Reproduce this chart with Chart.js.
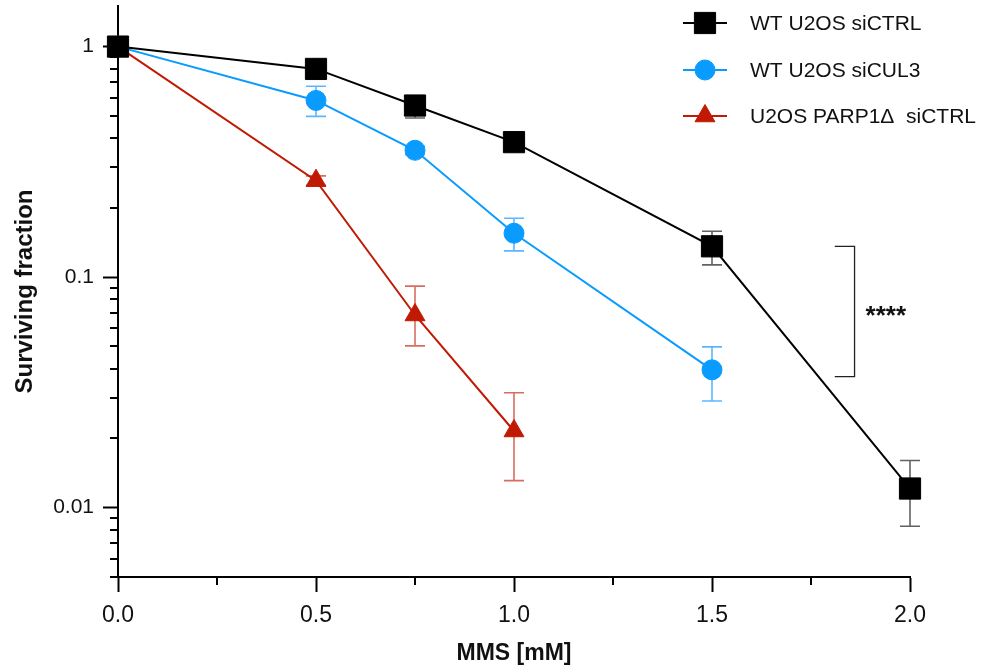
<!DOCTYPE html>
<html>
<head>
<meta charset="utf-8">
<script src="https://cdn.jsdelivr.net/npm/chart.js@4.4.1/dist/chart.umd.min.js"></script>
<style>
html,body{margin:0;padding:0;background:#fff;}
#wrap{width:987px;height:670px;}
</style>
</head>
<body>
<div id="wrap"><canvas id="c" width="987" height="670"></canvas></div>
<script>
// ---- data ----
const seriesNames = ['WT U2OS siCTRL', 'WT U2OS siCUL3', 'U2OS PARP1\u0394  siCTRL'];

const dosesCtrl = [0, 0.5, 0.75, 1.0, 1.5, 2.0];
const wtCtrl    = [1, 0.80, 0.555, 0.385, 0.136, 0.0121];
const wtCtrlLo  = [null, 0.76, 0.49, 0.36, 0.113, 0.0083];
const wtCtrlHi  = [null, 0.84, 0.60, 0.41, 0.158, 0.0160];

const dosesCul3 = [0, 0.5, 0.75, 1.0, 1.5];
const wtCul3    = [1, 0.584, 0.355, 0.155, 0.0396];
const wtCul3Lo  = [null, 0.498, 0.34, 0.130, 0.029];
const wtCul3Hi  = [null, 0.673, 0.37, 0.180, 0.0498];

const dosesParp = [0, 0.5, 0.75, 1.0];
const parp      = [1, 0.262, 0.0685, 0.0215];
const parpLo    = [null, 0.25, 0.0503, 0.0131];
const parpHi    = [null, 0.275, 0.0914, 0.0315];

const xTicks = [0, 0.5, 1.0, 1.5, 2.0];
const xTickLabels = ['0.0', '0.5', '1.0', '1.5', '2.0'];
const xMinorTicks = [0.25, 0.75, 1.25, 1.75];
const yTicks = [0.01, 0.1, 1];
const yTickLabels = ['0.01', '0.1', '1'];
const yMinorTicks = [0.005, 0.006, 0.007, 0.008, 0.009,
                     0.02, 0.03, 0.04, 0.05, 0.06, 0.07, 0.08, 0.09,
                     0.2, 0.3, 0.4, 0.5, 0.6, 0.7, 0.8, 0.9];
const sigBracket = [0.136, 0.037]; // surviving fraction range spanned by the bracket
const sigLabel = '****';

// ---- styles ----
const colors = ['#000000', '#0a9bff', '#c11a04'];
const errColors = ['rgba(70,70,70,0.85)', 'rgba(60,170,255,0.85)', 'rgba(200,60,40,0.75)'];
const FONT = "'Liberation Sans', Arial, Helvetica, sans-serif";

function pts(xs, ys){ return xs.map((x,i)=>({x:x, y:ys[i]})); }

const errData = [
  {xs: dosesCtrl, lo: wtCtrlLo, hi: wtCtrlHi},
  {xs: dosesCul3, lo: wtCul3Lo, hi: wtCul3Hi},
  {xs: dosesParp, lo: parpLo, hi: parpHi}
];

const errorBars = {
  id: 'errorBars',
  beforeDatasetsDraw(chart){
    const {ctx, scales:{x, y}} = chart;
    ctx.save();
    errData.forEach((e, di) => {
      ctx.strokeStyle = errColors[di];
      ctx.lineWidth = 1.6;
      e.xs.forEach((xv, i) => {
        if (e.lo[i] == null || e.hi[i] == null) return;
        const px = x.getPixelForValue(xv);
        const pl = y.getPixelForValue(e.lo[i]);
        const ph = y.getPixelForValue(e.hi[i]);
        ctx.beginPath();
        ctx.moveTo(px, pl); ctx.lineTo(px, ph);
        ctx.moveTo(px - 10, pl); ctx.lineTo(px + 10, pl);
        ctx.moveTo(px - 10, ph); ctx.lineTo(px + 10, ph);
        ctx.stroke();
      });
    });
    ctx.restore();
  }
};

const extras = {
  id: 'extras',
  afterDraw(chart){
    const {ctx, scales:{x, y}, chartArea} = chart;
    ctx.save();
    // minor ticks
    ctx.strokeStyle = '#000';
    ctx.lineWidth = 2;
    ctx.beginPath();
    yMinorTicks.forEach(v => {
      const py = Math.round(y.getPixelForValue(v));
      ctx.moveTo(chartArea.left - 8, py); ctx.lineTo(chartArea.left, py);
    });
    xMinorTicks.forEach(v => {
      const px = Math.round(x.getPixelForValue(v));
      ctx.moveTo(px, chartArea.bottom); ctx.lineTo(px, chartArea.bottom + 8);
    });
    ctx.stroke();

    // significance bracket
    const bx = x.getPixelForValue(1.86);
    const bl = x.getPixelForValue(1.81);
    const bt = y.getPixelForValue(sigBracket[0]);
    const bb = y.getPixelForValue(sigBracket[1]);
    ctx.lineWidth = 1.3;
    ctx.strokeStyle = '#222';
    ctx.beginPath();
    ctx.moveTo(bl, bt); ctx.lineTo(bx, bt); ctx.lineTo(bx, bb); ctx.lineTo(bl, bb);
    ctx.stroke();
    ctx.fillStyle = '#111';
    ctx.font = 'bold 26px ' + FONT;
    ctx.textAlign = 'left';
    ctx.textBaseline = 'middle';
    ctx.fillText(sigLabel, bx + 11, (bt + bb) / 2 + 5);

    // legend
    const rows = [23, 70, 116];
    chart.data.datasets.forEach((ds, i) => {
      const yy = rows[i];
      ctx.strokeStyle = ds.borderColor;
      ctx.lineWidth = 2;
      ctx.beginPath(); ctx.moveTo(683, yy); ctx.lineTo(727, yy); ctx.stroke();
      ctx.fillStyle = ds.pointBackgroundColor;
      ctx.strokeStyle = ds.pointBorderColor;
      ctx.lineWidth = 1;
      Chart.helpers.drawPoint(ctx, {pointStyle: ds.pointStyle, radius: ds.pointRadius, rotation: 0, borderWidth: 1}, 705, yy);
    });
    ctx.fillStyle = '#111';
    ctx.font = '21px ' + FONT;
    ctx.textAlign = 'left';
    ctx.textBaseline = 'middle';
    chart.data.datasets.forEach((ds, i) => {
      ctx.fillText(ds.label, 750, rows[i] + 1);
    });
    ctx.restore();
  }
};

const datasets = [
  {label: seriesNames[0], data: pts(dosesCtrl, wtCtrl), borderColor: colors[0], pointBackgroundColor: colors[0], pointBorderColor: colors[0], pointStyle: 'rect', pointRadius: 15},
  {label: seriesNames[1], data: pts(dosesCul3, wtCul3), borderColor: colors[1], pointBackgroundColor: colors[1], pointBorderColor: colors[1], pointStyle: 'circle', pointRadius: 10},
  {label: seriesNames[2], data: pts(dosesParp, parp), borderColor: colors[2], pointBackgroundColor: colors[2], pointBorderColor: colors[2], pointStyle: 'triangle', pointRadius: 11.5}
];
datasets.forEach(d => { d.borderWidth = 2; d.pointBorderWidth = 1; d.fill = false; d.tension = 0; d.clip = false; });

const zeroPad = () => ({left: 0, top: 0, right: 0, bottom: 0});

new Chart(document.getElementById('c'), {
  type: 'line',
  data: {datasets: datasets},
  options: {
    responsive: false,
    animation: false,
    devicePixelRatio: 1,
    layout: {autoPadding: false, padding: {top: 6, right: 77, left: 0, bottom: 0}},
    plugins: {legend: {display: false}, tooltip: {enabled: false}},
    scales: {
      x: {
        type: 'linear', min: 0, max: 2,
        afterBuildTicks: s => { s.ticks = xTicks.map(v => ({value: v})); },
        afterFit: s => { s.height = 93; s.paddingLeft = 0; s.paddingRight = 0; s.getPadding = zeroPad; },
        ticks: {
          callback: (v) => xTickLabels[xTicks.indexOf(v)] ?? '',
          color: '#111', font: {family: FONT, size: 23}, padding: 10, maxRotation: 0
        },
        grid: {drawOnChartArea: false, tickLength: 15, tickWidth: 2, tickColor: '#000'},
        border: {color: '#000', width: 2},
        title: {display: true, text: 'MMS [mM]', color: '#111', font: {family: FONT, size: 23, weight: 'bold'}, padding: {top: 0, bottom: 3}}
      },
      y: {
        type: 'logarithmic', min: 0.005, max: 1.5,
        afterBuildTicks: s => { s.ticks = yTicks.map(v => ({value: v})); },
        afterFit: s => { s.width = 118; s.paddingTop = 0; s.paddingBottom = 0; s.getPadding = zeroPad; },
        ticks: {
          callback: (v) => yTickLabels[yTicks.indexOf(v)] ?? '',
          color: '#111', font: {family: FONT, size: 21}, padding: 9
        },
        grid: {drawOnChartArea: false, tickLength: 15, tickWidth: 2, tickColor: '#000'},
        border: {color: '#000', width: 2},
        title: {display: true, text: 'Surviving fraction', color: '#111', font: {family: FONT, size: 24, weight: 'bold'}, padding: {top: 11, bottom: 0}}
      }
    }
  },
  plugins: [errorBars, extras]
});
</script>
</body>
</html>
